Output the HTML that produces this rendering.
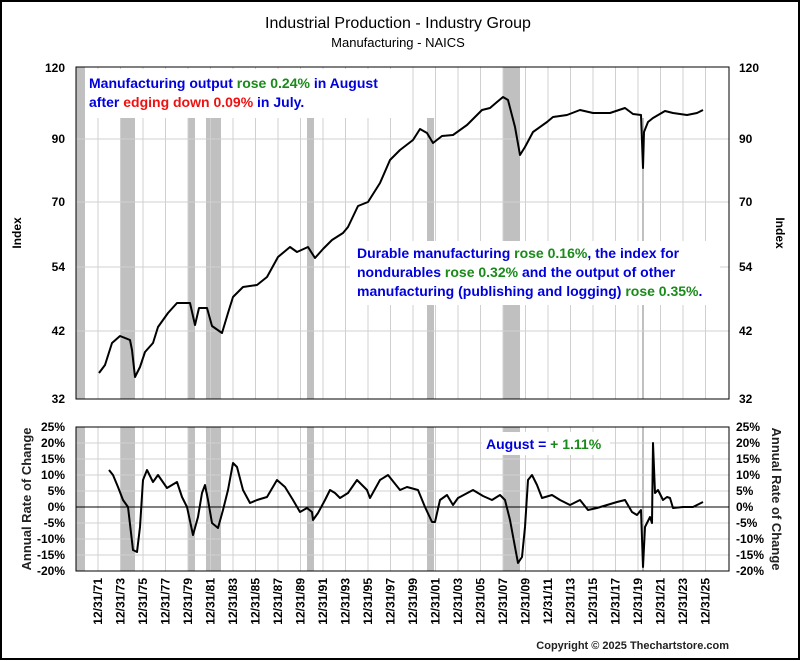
<!DOCTYPE html>
<html><head><meta charset="utf-8"><style>
html,body{margin:0;padding:0;background:#fff}
svg{display:block}
text{font-family:"Liberation Sans",Arial,sans-serif}
.b{font-weight:bold}
</style></head><body>
<svg width="800" height="661" viewBox="0 0 800 661" xmlns="http://www.w3.org/2000/svg">
<rect x="1" y="1" width="798" height="658" fill="#fff" stroke="#000" stroke-width="2"/>
<text x="398" y="28" font-size="16" text-anchor="middle">Industrial Production - Industry Group</text>
<text x="398" y="47" font-size="13" text-anchor="middle">Manufacturing - NAICS</text>

<!-- recession bars top -->
<g fill="#c0c0c0">
<rect x="76" y="67" width="9" height="332"/>
<rect x="120" y="118" width="15" height="281"/>
<rect x="188" y="118" width="7" height="281"/>
<rect x="206" y="118" width="15" height="281"/>
<rect x="307" y="118" width="7" height="281"/>
<rect x="427" y="118" width="7" height="281"/>
<rect x="503" y="67" width="17" height="332"/>
<rect x="642" y="118" width="2" height="281"/>
<!-- bottom -->
<rect x="76" y="427" width="9" height="144"/>
<rect x="120" y="427" width="15" height="144"/>
<rect x="188" y="427" width="7" height="144"/>
<rect x="206" y="427" width="15" height="144"/>
<rect x="307" y="427" width="7" height="144"/>
<rect x="427" y="427" width="7" height="144"/>
<rect x="503" y="427" width="17" height="144"/>
<rect x="642" y="427" width="2" height="144"/>
</g>

<g stroke="#d0d0d0" stroke-width="1" id="vg">
<line x1="98" y1="67" x2="98" y2="399"/><line x1="120.5" y1="67" x2="120.5" y2="399"/><line x1="143" y1="67" x2="143" y2="399"/><line x1="165.5" y1="67" x2="165.5" y2="399"/><line x1="188" y1="67" x2="188" y2="399"/><line x1="210.5" y1="67" x2="210.5" y2="399"/><line x1="233" y1="67" x2="233" y2="399"/><line x1="255.5" y1="67" x2="255.5" y2="399"/><line x1="278" y1="67" x2="278" y2="399"/><line x1="300.5" y1="67" x2="300.5" y2="399"/><line x1="323" y1="67" x2="323" y2="399"/><line x1="345.5" y1="67" x2="345.5" y2="399"/><line x1="368" y1="67" x2="368" y2="399"/><line x1="390.5" y1="67" x2="390.5" y2="399"/><line x1="413" y1="67" x2="413" y2="399"/><line x1="435.5" y1="67" x2="435.5" y2="399"/><line x1="458" y1="67" x2="458" y2="399"/><line x1="480.5" y1="67" x2="480.5" y2="399"/><line x1="503" y1="67" x2="503" y2="399"/><line x1="525.5" y1="67" x2="525.5" y2="399"/><line x1="548" y1="67" x2="548" y2="399"/><line x1="570.5" y1="67" x2="570.5" y2="399"/><line x1="593" y1="67" x2="593" y2="399"/><line x1="615.5" y1="67" x2="615.5" y2="399"/><line x1="638" y1="67" x2="638" y2="399"/><line x1="660.5" y1="67" x2="660.5" y2="399"/><line x1="683" y1="67" x2="683" y2="399"/><line x1="705.5" y1="67" x2="705.5" y2="399"/>
<line x1="76" y1="139" x2="729" y2="139"/><line x1="76" y1="202" x2="729" y2="202"/><line x1="76" y1="267" x2="729" y2="267"/><line x1="76" y1="331" x2="729" y2="331"/>
</g>
<g stroke="#d0d0d0" stroke-width="1">
<line x1="98" y1="427" x2="98" y2="571"/><line x1="120.5" y1="427" x2="120.5" y2="571"/><line x1="143" y1="427" x2="143" y2="571"/><line x1="165.5" y1="427" x2="165.5" y2="571"/><line x1="188" y1="427" x2="188" y2="571"/><line x1="210.5" y1="427" x2="210.5" y2="571"/><line x1="233" y1="427" x2="233" y2="571"/><line x1="255.5" y1="427" x2="255.5" y2="571"/><line x1="278" y1="427" x2="278" y2="571"/><line x1="300.5" y1="427" x2="300.5" y2="571"/><line x1="323" y1="427" x2="323" y2="571"/><line x1="345.5" y1="427" x2="345.5" y2="571"/><line x1="368" y1="427" x2="368" y2="571"/><line x1="390.5" y1="427" x2="390.5" y2="571"/><line x1="413" y1="427" x2="413" y2="571"/><line x1="435.5" y1="427" x2="435.5" y2="571"/><line x1="458" y1="427" x2="458" y2="571"/><line x1="480.5" y1="427" x2="480.5" y2="571"/><line x1="503" y1="427" x2="503" y2="571"/><line x1="525.5" y1="427" x2="525.5" y2="571"/><line x1="548" y1="427" x2="548" y2="571"/><line x1="570.5" y1="427" x2="570.5" y2="571"/><line x1="593" y1="427" x2="593" y2="571"/><line x1="615.5" y1="427" x2="615.5" y2="571"/><line x1="638" y1="427" x2="638" y2="571"/><line x1="660.5" y1="427" x2="660.5" y2="571"/><line x1="683" y1="427" x2="683" y2="571"/><line x1="705.5" y1="427" x2="705.5" y2="571"/>
<line x1="76" y1="443" x2="729" y2="443"/><line x1="76" y1="459" x2="729" y2="459"/><line x1="76" y1="475" x2="729" y2="475"/><line x1="76" y1="491" x2="729" y2="491"/><line x1="76" y1="523" x2="729" y2="523"/><line x1="76" y1="539" x2="729" y2="539"/><line x1="76" y1="555" x2="729" y2="555"/>
</g>

<!-- text boxes -->
<rect x="86" y="69" width="310" height="49" fill="#fff"/>
<text x="89" y="88" font-size="14" class="b" fill="#0000dd">Manufacturing output <tspan fill="#1a8a1a">rose 0.24%</tspan> in August</text>
<text x="89" y="107" font-size="14" class="b" fill="#0000dd">after <tspan fill="#ee1111">edging down 0.09%</tspan> in July.</text>

<rect x="350" y="241" width="370" height="64" fill="#fff"/>
<text x="357" y="258" font-size="14" class="b" fill="#0000dd">Durable manufacturing <tspan fill="#1a8a1a">rose 0.16%</tspan>, the index for</text>
<text x="357" y="277" font-size="14" class="b" fill="#0000dd">nondurables <tspan fill="#1a8a1a">rose 0.32%</tspan> and the output of other</text>
<text x="357" y="296" font-size="14" class="b" fill="#0000dd">manufacturing (publishing and logging) <tspan fill="#1a8a1a">rose 0.35%</tspan>.</text>

<rect x="482" y="432" width="128" height="23" fill="#fff"/>
<text x="486" y="449" font-size="14" class="b" fill="#0000dd">August = <tspan fill="#1a8a1a">+ 1.11%</tspan></text>

<!-- zero line -->
<line x1="76" y1="507" x2="729" y2="507" stroke="#000" stroke-width="1"/>

<!-- series -->
<polyline fill="none" stroke="#000" stroke-width="2" stroke-linejoin="round" points="99,373 105,365 112,343 120,336 130,340 132,350 135,377 140,367 145,352 153,343 158,327 168,313 177,303 190,303 195,325 199,308 207,308 212,326 222,333 228,313 233,297 243,287 257,285 267,277 278,257 290,247 297,252 308,247 315,258 323,249 332,240 343,233 348,227 358,206 368,202 380,183 390,160 400,150 413,140 420,129 427,133 433,143 442,136 453,135 467,125 482,110 490,108 497,102 503,97 508,100 515,127 520,155 525,147 533,132 547,122 553,117 567,115 580,110 593,113 610,113 625,108 633,114 641,115 643,168 644,132 648,122 653,118 665,111 673,113 687,115 697,113 703,110"/>
<polyline fill="none" stroke="#000" stroke-width="2" stroke-linejoin="round" points="109,470 113,475 118,487 123,500 128,507 133,550 137,552 140,527 143,480 147,470 153,482 158,475 167,488 177,482 182,497 187,507 193,535 198,517 202,493 205,485 208,500 212,523 218,528 223,510 228,490 233,463 237,467 243,490 250,503 257,500 267,497 277,480 285,487 293,500 300,512 307,508 312,512 313,520 318,513 325,500 330,490 335,493 340,498 348,493 357,480 367,490 370,498 380,480 388,475 400,490 407,487 418,490 425,507 432,522 435,522 440,500 447,495 453,505 458,498 473,490 483,496 492,500 500,495 505,500 510,520 515,547 518,563 522,557 525,527 528,480 532,475 537,485 542,498 552,495 560,500 570,505 580,500 588,510 597,508 607,505 617,502 625,500 632,512 637,515 641,510 643,567 645,527 650,517 652,523 653,443 655,493 658,490 663,500 667,497 670,498 673,508 683,507 693,507 703,502"/>

<!-- frames -->
<rect x="76" y="67" width="653" height="332" fill="none" stroke="#000" stroke-width="1"/>
<rect x="76" y="427" width="653" height="144" fill="none" stroke="#000" stroke-width="1"/>

<!-- axis labels top -->
<g font-size="12" class="b" fill="#000">
<text x="65" y="72" text-anchor="end">120</text>
<text x="65" y="143" text-anchor="end">90</text>
<text x="65" y="206" text-anchor="end">70</text>
<text x="65" y="271" text-anchor="end">54</text>
<text x="65" y="335" text-anchor="end">42</text>
<text x="65" y="403" text-anchor="end">32</text>
<text x="739" y="72">120</text>
<text x="739" y="143">90</text>
<text x="739" y="206">70</text>
<text x="739" y="271">54</text>
<text x="739" y="335">42</text>
<text x="739" y="403">32</text>
</g>
<text transform="translate(21,233) rotate(-90)" font-size="12" class="b" text-anchor="middle">Index</text>
<text transform="translate(776,233) rotate(90)" font-size="12" class="b" text-anchor="middle">Index</text>

<g font-size="12" class="b">
<text x="65" y="431" text-anchor="end">25%</text>
<text x="65" y="447" text-anchor="end">20%</text>
<text x="65" y="463" text-anchor="end">15%</text>
<text x="65" y="479" text-anchor="end">10%</text>
<text x="65" y="495" text-anchor="end">5%</text>
<text x="65" y="511" text-anchor="end">0%</text>
<text x="65" y="527" text-anchor="end">-5%</text>
<text x="65" y="543" text-anchor="end">-10%</text>
<text x="65" y="559" text-anchor="end">-15%</text>
<text x="65" y="575" text-anchor="end">-20%</text>
<text x="736" y="431">25%</text>
<text x="736" y="447">20%</text>
<text x="736" y="463">15%</text>
<text x="736" y="479">10%</text>
<text x="736" y="495">5%</text>
<text x="736" y="511">0%</text>
<text x="736" y="527">-5%</text>
<text x="736" y="543">-10%</text>
<text x="736" y="559">-15%</text>
<text x="736" y="575">-20%</text>
</g>
<text transform="translate(31,499) rotate(-90)" font-size="13" class="b" text-anchor="middle" fill="#222">Annual Rate of Change</text>
<text transform="translate(772,499) rotate(90)" font-size="13" class="b" text-anchor="middle" fill="#222">Annual Rate of Change</text>

<!-- x labels -->
<g font-size="12" class="b" text-anchor="end">
<text transform="translate(102,578) rotate(-90)">12/31/71</text>
<text transform="translate(124.5,578) rotate(-90)">12/31/73</text>
<text transform="translate(147,578) rotate(-90)">12/31/75</text>
<text transform="translate(169.5,578) rotate(-90)">12/31/77</text>
<text transform="translate(192,578) rotate(-90)">12/31/79</text>
<text transform="translate(214.5,578) rotate(-90)">12/31/81</text>
<text transform="translate(237,578) rotate(-90)">12/31/83</text>
<text transform="translate(259.5,578) rotate(-90)">12/31/85</text>
<text transform="translate(282,578) rotate(-90)">12/31/87</text>
<text transform="translate(304.5,578) rotate(-90)">12/31/89</text>
<text transform="translate(327,578) rotate(-90)">12/31/91</text>
<text transform="translate(349.5,578) rotate(-90)">12/31/93</text>
<text transform="translate(372,578) rotate(-90)">12/31/95</text>
<text transform="translate(394.5,578) rotate(-90)">12/31/97</text>
<text transform="translate(417,578) rotate(-90)">12/31/99</text>
<text transform="translate(439.5,578) rotate(-90)">12/31/01</text>
<text transform="translate(462,578) rotate(-90)">12/31/03</text>
<text transform="translate(484.5,578) rotate(-90)">12/31/05</text>
<text transform="translate(507,578) rotate(-90)">12/31/07</text>
<text transform="translate(529.5,578) rotate(-90)">12/31/09</text>
<text transform="translate(552,578) rotate(-90)">12/31/11</text>
<text transform="translate(574.5,578) rotate(-90)">12/31/13</text>
<text transform="translate(597,578) rotate(-90)">12/31/15</text>
<text transform="translate(619.5,578) rotate(-90)">12/31/17</text>
<text transform="translate(642,578) rotate(-90)">12/31/19</text>
<text transform="translate(664.5,578) rotate(-90)">12/31/21</text>
<text transform="translate(687,578) rotate(-90)">12/31/23</text>
<text transform="translate(709.5,578) rotate(-90)">12/31/25</text>
</g>

<text x="729" y="649" font-size="11" class="b" text-anchor="end" fill="#222">Copyright © 2025 Thechartstore.com</text>
</svg>
</body></html>
